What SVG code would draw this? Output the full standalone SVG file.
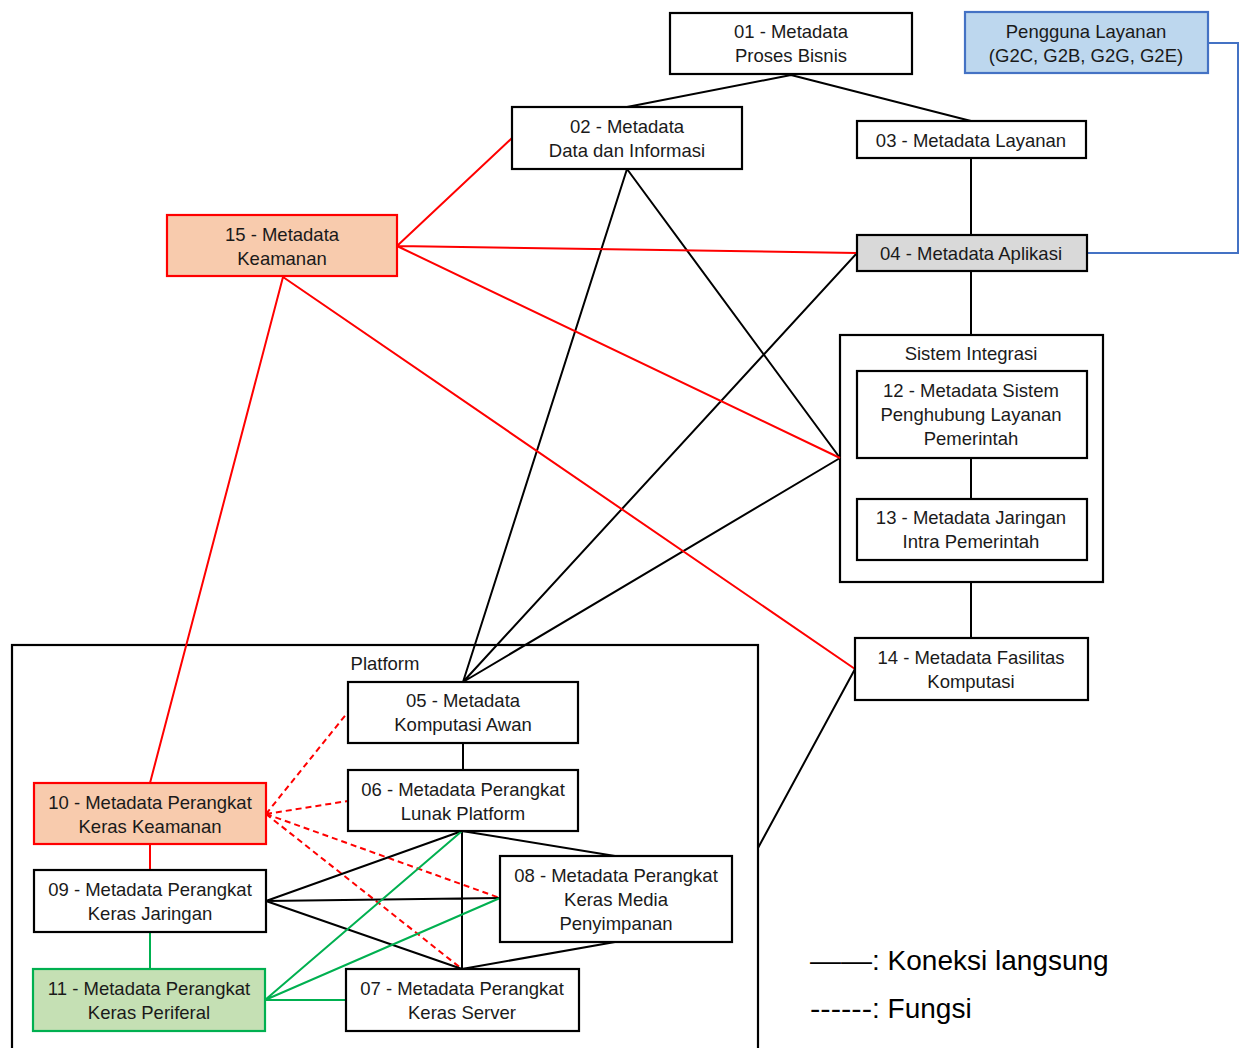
<svg xmlns="http://www.w3.org/2000/svg" width="1245" height="1048" viewBox="0 0 1245 1048">
<style>
.box{fill:#fff;stroke:#000;stroke-width:2.2}
.t{font-family:"Liberation Sans",Arial,sans-serif;font-size:18.5px;fill:#1a1a1a;text-anchor:middle;dominant-baseline:central}
.k{stroke:#000;stroke-width:2;fill:none}
.r{stroke:#ff0000;stroke-width:2;fill:none}
.rd{stroke:#ff0000;stroke-width:2;fill:none;stroke-dasharray:6 4}
.g{stroke:#00b050;stroke-width:2;fill:none}
.b{stroke:#4472c4;stroke-width:2;fill:none}
.leg{font-family:"Liberation Sans",Arial,sans-serif;font-size:28px;fill:#000}
</style>
<rect width="1245" height="1048" fill="#fff"/>
<g id="platform">
<rect x="12" y="645" width="746" height="410" class="box"/>
<text x="385" y="663" class="t">Platform</text>
</g>
<g id="sistem-integrasi">
<rect x="840" y="335" width="263" height="247" class="box"/>
<text x="971" y="353" class="t">Sistem Integrasi</text>
</g>
<g id="connectors">
<path class="k" d="M791 75L627 107M791 75L971 121M971 158V235M971 271V335M971 458V499M971 582V638"/>
<path class="k" d="M627 169L463 682M627 169L840 458M857 253L463 682M840 458L463 682M855 669L758 848"/>
<path class="b" d="M1208 43H1238V253H1087"/>
<path class="r" d="M397 246L512 138M397 246L857 253M397 246L840 458M283 277L855 669M283 277L150 783M150 844V870"/>
<path class="rd" d="M266 814L348 712M266 814L348 801M266 814L500 898M266 814L462 969"/>
<path class="k" d="M463 743V770M462 831V969M462 831L615 856M615 942L462 969M266 901L462 831M266 901L500 898M266 901L462 969"/>
<path class="g" d="M150 932V969M265 1000L462 831M265 1000L500 898M265 1000H346"/>
</g>
<g id="n01"><rect x="670" y="13" width="242" height="61" class="box"/><text x="791" y="31" class="t">01 - Metadata</text><text x="791" y="55" class="t">Proses Bisnis</text></g>
<g id="pengguna"><rect x="965" y="12" width="243" height="61" fill="#bdd7ee" stroke="#4472c4" stroke-width="2.2"/><text x="1086" y="31" class="t">Pengguna Layanan</text><text x="1086" y="55" class="t">(G2C, G2B, G2G, G2E)</text></g>
<g id="n02"><rect x="512" y="107" width="230" height="62" class="box"/><text x="627" y="126" class="t">02 - Metadata</text><text x="627" y="150" class="t">Data dan Informasi</text></g>
<g id="n03"><rect x="857" y="121" width="229" height="37" class="box"/><text x="971" y="140" class="t">03 - Metadata Layanan</text></g>
<g id="n04"><rect x="857" y="235" width="230" height="36" class="box" style="fill:#d9d9d9"/><text x="971" y="253" class="t">04 - Metadata Aplikasi</text></g>
<g id="n15"><rect x="167" y="215" width="230" height="61" fill="#f8cbad" stroke="#ff0000" stroke-width="2.2"/><text x="282" y="234" class="t">15 - Metadata</text><text x="282" y="258" class="t">Keamanan</text></g>
<g id="n12"><rect x="857" y="371" width="230" height="87" class="box"/><text x="971" y="390" class="t">12 - Metadata Sistem</text><text x="971" y="414" class="t">Penghubung Layanan</text><text x="971" y="438" class="t">Pemerintah</text></g>
<g id="n13"><rect x="857" y="499" width="230" height="61" class="box"/><text x="971" y="517" class="t">13 - Metadata Jaringan</text><text x="971" y="541" class="t">Intra Pemerintah</text></g>
<g id="n14"><rect x="855" y="638" width="233" height="62" class="box"/><text x="971" y="657" class="t">14 - Metadata Fasilitas</text><text x="971" y="681" class="t">Komputasi</text></g>
<g id="n05"><rect x="348" y="682" width="230" height="61" class="box"/><text x="463" y="700" class="t">05 - Metadata</text><text x="463" y="724" class="t">Komputasi Awan</text></g>
<g id="n06"><rect x="348" y="770" width="230" height="61" class="box"/><text x="463" y="789" class="t">06 - Metadata Perangkat</text><text x="463" y="813" class="t">Lunak Platform</text></g>
<g id="n08"><rect x="500" y="856" width="232" height="86" class="box"/><text x="616" y="875" class="t">08 - Metadata Perangkat</text><text x="616" y="899" class="t">Keras Media</text><text x="616" y="923" class="t">Penyimpanan</text></g>
<g id="n07"><rect x="346" y="969" width="233" height="62" class="box"/><text x="462" y="988" class="t">07 - Metadata Perangkat</text><text x="462" y="1012" class="t">Keras Server</text></g>
<g id="n10"><rect x="34" y="783" width="232" height="61" fill="#f8cbad" stroke="#ff0000" stroke-width="2.2"/><text x="150" y="802" class="t">10 - Metadata Perangkat</text><text x="150" y="826" class="t">Keras Keamanan</text></g>
<g id="n09"><rect x="34" y="870" width="232" height="62" class="box"/><text x="150" y="889" class="t">09 - Metadata Perangkat</text><text x="150" y="913" class="t">Keras Jaringan</text></g>
<g id="n11"><rect x="33" y="969" width="232" height="62" fill="#c5e0b4" stroke="#00b050" stroke-width="2.2"/><text x="149" y="988" class="t">11 - Metadata Perangkat</text><text x="149" y="1012" class="t">Keras Periferal</text></g>
<g id="legend">
<text x="810" y="970" class="leg"><tspan textLength="62" lengthAdjust="spacingAndGlyphs">——</tspan>: Koneksi langsung</text>
<text x="810" y="1018" class="leg"><tspan textLength="62" lengthAdjust="spacingAndGlyphs">------</tspan>: Fungsi</text>
</g>
</svg>
